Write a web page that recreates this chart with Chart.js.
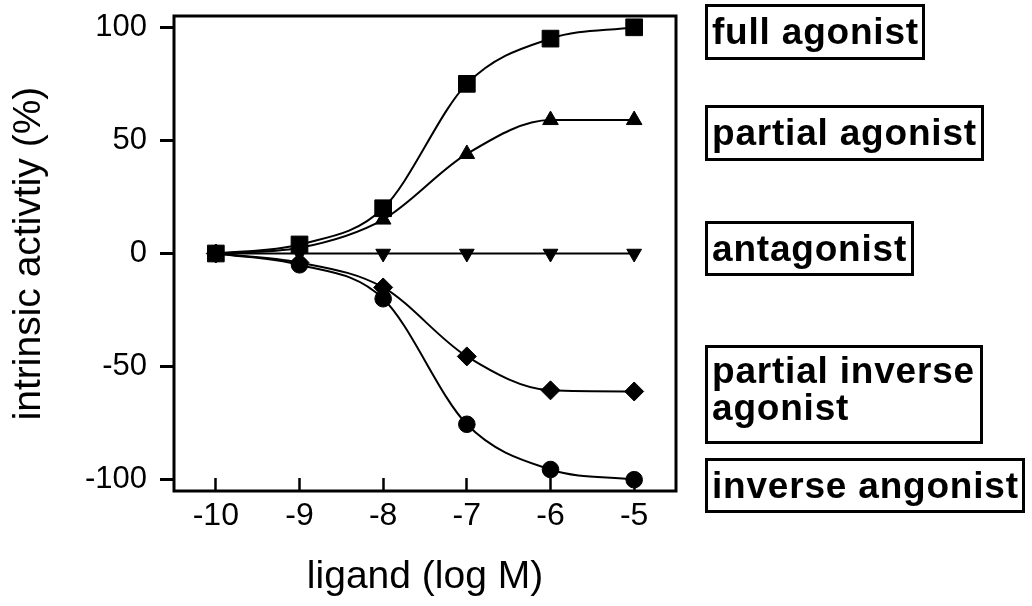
<!DOCTYPE html>
<html lang="en">
<head>
    <meta charset="UTF-8">
    <title>intrinsic activity</title>
    <style>
        body { margin: 0; background: #fff; }
        #wrap { position: relative; width: 1032px; height: 606px; }
        .tag {
            position: absolute;
            box-sizing: border-box;
            border: 3px solid #000;
            padding-left: 4px;
            font-family: "Liberation Sans", Arial, sans-serif;
            font-weight: bold;
            font-size: 37px;
            letter-spacing: 0.8px;
            line-height: 50px;
            white-space: nowrap;
            color: #000;
        }
    </style>
</head>
<body>

<div id="wrap">
    <canvas id="myChart"></canvas>
    <div class="tag" style="left:705px; top:4px; width:220px; height:56px;">full agonist</div>
    <div class="tag" style="left:705px; top:105px; width:279px; height:56px;">partial agonist</div>
    <div class="tag" style="left:705px; top:221px; width:209px; height:55px; line-height:49px;">antagonist</div>
    <div class="tag" style="left:705px; top:345px; width:278px; height:99px; line-height:37px; padding-top:4px;">partial inverse<br>agonist</div>
    <div class="tag" style="left:705px; top:458px; width:320px; height:55px; line-height:49px;">inverse angonist</div>
</div>

<script src="https://cdn.jsdelivr.net/npm/chart.js"></script>

<script>
    // log M
    const doses = [-10, -9, -8, -7, -6, -5];

    const fullAgonist = [0, 4, 20, 75, 95, 100];
    const partialAgonist = [0, 2.5, 15, 44, 59, 59];
    const antagonist = [0, 0, 0, 0, 0, 0];
    const partialInverse = [0, -4, -15, -45.5, -60.5, -61];
    const inverseAgonist = [0, -5, -20, -75.5, -95.5, -100];

    const xTicks = [-10, -9, -8, -7, -6, -5];
    const yTicks = [-100, -50, 0, 50, 100];

    const toPoints = vals => vals.map((v, i) => ({x: doses[i], y: v}));

    const series = (data, style, radius, rotation) => ({
        data: toPoints(data),
        borderColor: '#000',
        backgroundColor: '#000',
        borderWidth: 2,
        pointStyle: style,
        pointRadius: radius,
        pointRotation: rotation || 0,
        pointBorderWidth: 1,
        pointBorderColor: '#000',
        pointBackgroundColor: '#000',
        cubicInterpolationMode: 'monotone',
        clip: false
    });

    // box around the plot area
    const frame = {
        id: 'frame',
        afterDraw(chart) {
            const {ctx, chartArea: a} = chart;
            ctx.save();
            ctx.strokeStyle = '#000';
            ctx.lineWidth = 3;
            ctx.strokeRect(a.left, a.top, a.right - a.left, a.bottom - a.top);
            ctx.restore();
        }
    };

    const font = 'Liberation Sans, Arial, sans-serif';

    const ctx = document.getElementById('myChart');

    new Chart(ctx, {
        type: 'line',
        data: {
            datasets: [
                series(fullAgonist, 'rect', 11.8),
                series(partialAgonist, 'triangle', 9),
                series(antagonist, 'triangle', 8.5, 180),
                series(partialInverse, 'rectRot', 9.5),
                series(inverseAgonist, 'circle', 8.3)
            ]
        },
        options: {
            responsive: true,
            maintainAspectRatio: false,
            animation: false,
            layout: {
                padding: {top: 16, right: 356, bottom: 0, left: 0}
            },
            plugins: {
                legend: {display: false},
                tooltip: {enabled: false}
            },
            scales: {
                x: {
                    type: 'linear',
                    min: -10.5,
                    max: -4.5,
                    afterBuildTicks: s => { s.ticks = xTicks.map(v => ({value: v})); },
                    afterFit: s => {
                        s.height = 115;
                        s.paddingLeft = 0;
                        s.paddingRight = 0;
                    },
                    border: {display: false},
                    grid: {
                        drawOnChartArea: false,
                        tickLength: -13,
                        tickWidth: 2.5,
                        tickColor: '#000'
                    },
                    ticks: {
                        color: '#000',
                        padding: 19,
                        maxRotation: 0,
                        font: {family: font, size: 32}
                    },
                    title: {
                        display: true,
                        text: 'ligand (log M)',
                        color: '#000',
                        padding: {top: 0, bottom: 5},
                        font: {family: font, size: 39}
                    }
                },
                y: {
                    min: -105,
                    max: 105,
                    afterBuildTicks: s => { s.ticks = yTicks.map(v => ({value: v})); },
                    afterFit: s => {
                        s.width = 174;
                        s.paddingTop = 0;
                        s.paddingBottom = 0;
                    },
                    border: {display: false},
                    grid: {
                        drawOnChartArea: false,
                        tickLength: 14,
                        tickWidth: 3,
                        tickColor: '#000'
                    },
                    ticks: {
                        color: '#000',
                        padding: 13,
                        font: {family: font, size: 31}
                    },
                    title: {
                        display: true,
                        text: 'intrinsic activtiy (%)',
                        color: '#000',
                        padding: {top: 6, bottom: 0},
                        font: {family: font, size: 39}
                    }
                }
            }
        },
        plugins: [frame]
    });
</script>

</body>
</html>
